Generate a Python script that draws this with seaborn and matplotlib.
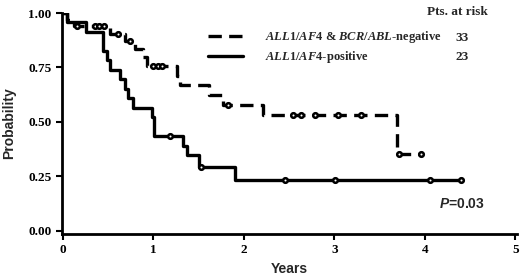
import numpy as np
import pandas as pd
import matplotlib
matplotlib.use('Agg')
import matplotlib.pyplot as plt
import seaborn as sns
from matplotlib.lines import Line2D

# Kaplan-Meier steps
neg_times = [0, 0.05, 0.12, 0.52, 0.69, 0.80, 0.89, 0.93, 1.26, 1.29, 1.62, 1.77, 2.21, 3.69]
neg_surv = [1.0, 0.970, 0.939, 0.905, 0.870, 0.835, 0.796, 0.757, 0.712, 0.667, 0.625, 0.577, 0.530, 0.354]
neg_end = 3.96
neg_censor = [0.155, 0.35, 0.40, 0.45, 0.61, 0.74, 0.995, 1.05, 1.10, 1.83,
              2.54, 2.63, 2.79, 3.04, 3.29, 3.71, 3.96]

pos_times = [0, 0.05, 0.25, 0.44, 0.49, 0.52, 0.63, 0.685, 0.72, 0.77, 0.98, 1.01, 1.33, 1.37, 1.51, 1.90]
pos_surv = [1.0, 0.957, 0.913, 0.826, 0.783, 0.739, 0.696, 0.652, 0.609, 0.565, 0.522, 0.435,
            0.390, 0.345, 0.290, 0.232]
pos_end = 4.40
pos_censor = [1.18, 1.53, 2.46, 3.01, 4.06, 4.40]

group_labels = [r'$\mathit{ALL1/AF4}$ & $\mathit{BCR/ABL}$-negative', r'$\mathit{ALL1/AF4}$-positive']
at_risk = [33, 23]
x_ticks = [0, 1, 2, 3, 4, 5]
y_ticks = [0.00, 0.25, 0.50, 0.75, 1.00]

sns.set_style('ticks')
plt.rcParams['font.family'] = ['Liberation Serif', 'DejaVu Serif']
plt.rcParams['font.weight'] = 'bold'
plt.rcParams['mathtext.fontset'] = 'custom'
plt.rcParams['mathtext.it'] = 'Liberation Serif:italic:bold'
plt.rcParams['mathtext.rm'] = 'Liberation Serif:bold'
plt.rcParams['mathtext.sf'] = 'Liberation Sans:italic:bold'


def step_frame(times, surv, end, name):
    t = list(times) + [end]
    s = list(surv) + [surv[-1]]
    return pd.DataFrame({'Years': t, 'Probability': s, 'group': name})


def censor_frame(times, surv, cens, name):
    idx = np.searchsorted(times, cens, side='right') - 1
    return pd.DataFrame({'Years': cens, 'Probability': np.array(surv)[idx], 'group': name})


curves = pd.concat([step_frame(neg_times, neg_surv, neg_end, 'neg'),
                    step_frame(pos_times, pos_surv, pos_end, 'pos')], ignore_index=True)
marks = pd.concat([censor_frame(neg_times, neg_surv, neg_censor, 'neg'),
                   censor_frame(pos_times, pos_surv, pos_censor, 'pos')], ignore_index=True)

fig = plt.figure(figsize=(5.2, 2.78), dpi=100)
ax = fig.add_axes([62 / 520, 1 - 234 / 278, 455 / 520, 221 / 278])

sns.lineplot(data=curves, x='Years', y='Probability', style='group',
             dashes={'neg': (4, 2.2), 'pos': ''}, color='black', lw=2.4,
             drawstyle='steps-post', estimator=None, sort=False, legend=False, ax=ax)
sns.scatterplot(data=marks, x='Years', y='Probability', marker='o', s=11,
                facecolor='white', edgecolor='black', linewidth=1.8, legend=False,
                zorder=3, ax=ax)

ax.set_xlim(-0.01, 5.02)
ax.set_ylim(-0.016, 1.0)
ax.set_xticks(x_ticks)
ax.set_yticks(y_ticks)
ax.set_xticklabels([str(v) for v in x_ticks])
ax.set_yticklabels([f'{v:.2f}' for v in y_ticks])
ax.tick_params(labelsize=9.5, width=1.5, length=4, colors='black')
for sp in ['top', 'right']:
    ax.spines[sp].set_visible(False)
for sp in ['left', 'bottom']:
    ax.spines[sp].set_linewidth(2)
    ax.spines[sp].set_color('black')

ax.set_xlabel('Years', family='Liberation Sans', fontweight='bold', fontsize=10, labelpad=4)
ax.set_ylabel('Probability', family='Liberation Sans', fontweight='bold', fontsize=10, labelpad=9)

handles = [Line2D([], [], color='black', lw=2.4, dashes=(4, 2.2)),
           Line2D([], [], color='black', lw=2.4)]
leg = ax.legend(handles, group_labels, loc='upper left', bbox_to_anchor=(0.308, 0.955),
                frameon=False, handlelength=2.8, handletextpad=1.7, labelspacing=0.3,
                borderpad=0, prop={'family': 'Liberation Serif', 'weight': 'bold', 'size': 9})

ax.text(0.87, 1.005, 'Pts. at risk', transform=ax.transAxes, ha='center', va='center',
        fontsize=9.5, fontweight='bold')
for yy, n in zip([0.888, 0.802], at_risk):
    ax.text(0.879, yy, str(n), transform=ax.transAxes, ha='center', va='center',
            fontsize=9.5, fontweight='bold')

ax.text(4.41, 0.12, r'$\mathsf{P}$=0.03', ha='center', va='center',
        family='Liberation Sans', fontsize=10, fontweight='bold')

fig.savefig('out.png', dpi=100)
plt.close(fig)
